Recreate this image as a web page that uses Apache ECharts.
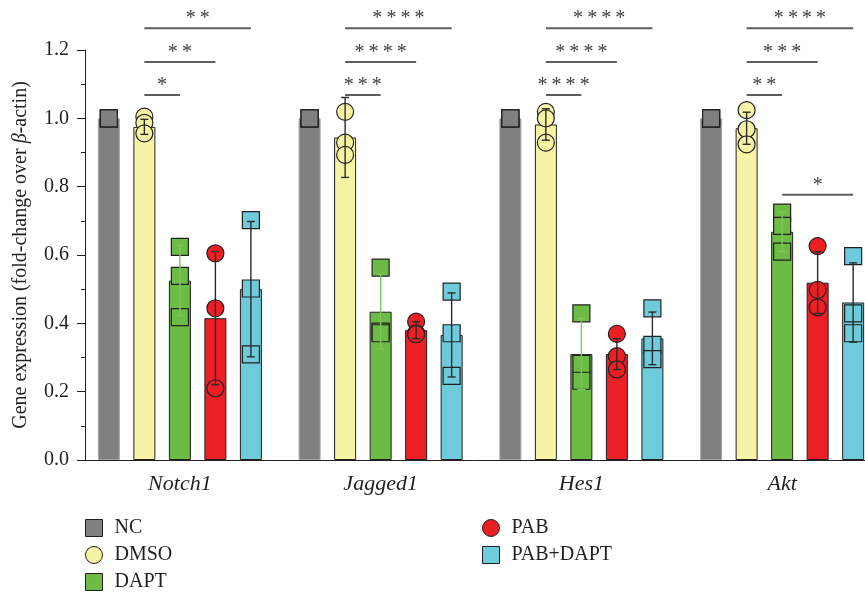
<!DOCTYPE html>
<html><head><meta charset="utf-8">
<script src="https://cdn.jsdelivr.net/npm/echarts@6/dist/echarts.min.js"></script>
<style>html,body{margin:0;padding:0;background:#fff}#c{width:865px;height:592px}</style>
</head><body><div id="c"></div>
<script>
// ---- data ----
const categories = ['Notch1', 'Jagged1', 'Hes1', 'Akt'];
const groups = ['NC', 'DMSO', 'DAPT', 'PAB', 'PAB+DAPT'];

const ncMean = [1.0, 1.0, 1.0, 1.0];
const ncSd = [0, 0, 0, 0];
const ncPoints = [[1.0, 1.0, 1.0], [1.0, 1.0, 1.0], [1.0, 1.0, 1.0], [1.0, 1.0, 1.0]];

const dmsoMean = [0.975, 0.944, 0.982, 0.971];
const dmsoSd = [0.022, 0.117, 0.046, 0.047];
const dmsoPoints = [[1.005, 0.987, 0.956], [1.019, 0.929, 0.893], [1.019, 1.0, 0.929], [1.024, 0.968, 0.924]];

const daptMean = [0.525, 0.434, 0.310, 0.668];
const daptSd = [0.103, 0.109, 0.104, 0.058];
const daptPoints = [[0.624, 0.539, 0.418], [0.563, 0.376, 0.371], [0.429, 0.281, 0.232], [0.724, 0.685, 0.610]];

const pabMean = [0.415, 0.380, 0.310, 0.519];
const pabSd = [0.195, 0.025, 0.045, 0.090];
const pabPoints = [[0.605, 0.444, 0.210], [0.405, 0.371, 0.368], [0.369, 0.304, 0.265], [0.626, 0.498, 0.447]];

const pabDaptMean = [0.500, 0.366, 0.356, 0.461];
const pabDaptSd = [0.198, 0.123, 0.077, 0.116];
const pabDaptPoints = [[0.702, 0.502, 0.309], [0.493, 0.371, 0.246], [0.444, 0.337, 0.295], [0.597, 0.429, 0.371]];

const yTicks = [0.0, 0.2, 0.4, 0.6, 0.8, 1.0, 1.2];

// significance brackets: category, from group, to group, height, label
const bracketCat = [0, 0, 0, 1, 1, 1, 2, 2, 2, 3, 3, 3, 3];
const bracketFrom = [1, 1, 1, 1, 1, 1, 1, 1, 1, 1, 1, 1, 2];
const bracketTo = [4, 3, 2, 4, 3, 2, 4, 3, 2, 4, 3, 2, 4];
const bracketLevel = [1.264, 1.165, 1.068, 1.264, 1.165, 1.068, 1.264, 1.165, 1.068, 1.264, 1.165, 1.068, 0.776];
const bracketLabel = ['**', '**', '*', '****', '****', '***', '****', '****', '****', '****', '***', '**', '*'];

// ---- styling / layout ----
const means = [ncMean, dmsoMean, daptMean, pabMean, pabDaptMean];
const sds = [ncSd, dmsoSd, daptSd, pabSd, pabDaptSd];
const points = [ncPoints, dmsoPoints, daptPoints, pabPoints, pabDaptPoints];
const colors = ['#808080', '#f8f4a6', '#6cbb45', '#ec2024', '#6ecbdb'];
const symbols = ['rect', 'circle', 'rect', 'circle', 'rect'];
const errColors = ['#333', '#2b2b2b', '#7cc65c', '#2b2b2b', '#2b2b2b'];
const SERIF = "'Liberation Serif','DejaVu Serif',serif";
const INK = '#231f20';
const GRID_L = 79.5, GRID_W = 803, GRID_T = 50, GRID_H = 410;
const BAR_W = 22, BAR_GAP = 0.614;
const STEP = BAR_W * (1 + BAR_GAP) / (GRID_W / categories.length);
function off(i) { return (i - (groups.length - 1) / 2) * STEP; }

const series = [];
groups.forEach(function (g, i) {
  series.push({
    name: g, type: 'bar', xAxisIndex: 0, yAxisIndex: 0,
    data: means[i], barWidth: BAR_W, barGap: (BAR_GAP * 100) + '%',
    itemStyle: { color: colors[i], borderColor: i === 0 ? '#a6a6a6' : INK, borderWidth: 1 },
    z: 2
  });
});
groups.forEach(function (g, i) {
  const d = [];
  points[i].forEach(function (arr, j) { arr.forEach(function (v) { d.push([j + off(i), v]); }); });
  series.push({
    name: g, type: 'scatter', xAxisIndex: 1, yAxisIndex: 0,
    symbol: symbols[i], symbolSize: 17, data: d,
    itemStyle: { color: colors[i], borderColor: INK, borderWidth: 1.2, opacity: 1 },
    z: 3
  });
});
groups.forEach(function (g, i) {
  const d = means[i].map(function (m, j) { return [j + off(i), m, sds[i][j]]; });
  series.push({
    name: g, type: 'custom', xAxisIndex: 1, yAxisIndex: 0, data: d, z: 4,
    renderItem: function (params, api) {
      const x = api.value(0), m = api.value(1), s = api.value(2);
      if (!s) return null;
      const t = api.coord([x, m + s]), b = api.coord([x, m - s]);
      const c = 4, st = { stroke: errColors[i], lineWidth: 1.4 };
      return { type: 'group', children: [
        { type: 'line', shape: { x1: t[0], y1: t[1], x2: b[0], y2: b[1] }, style: st },
        { type: 'line', shape: { x1: t[0] - c, y1: t[1], x2: t[0] + c, y2: t[1] }, style: st },
        { type: 'line', shape: { x1: b[0] - c, y1: b[1], x2: b[0] + c, y2: b[1] }, style: st }
      ] };
    }
  });
});
series.push({
  name: 'sig', type: 'custom', xAxisIndex: 1, yAxisIndex: 0, z: 5, clip: false,
  data: bracketCat.map(function (c, k) { return [c + off(bracketFrom[k]), bracketLevel[k], c + off(bracketTo[k])]; }),
  renderItem: function (params, api) {
    const p1 = api.coord([api.value(0), api.value(1)]);
    const p2 = api.coord([api.value(2), api.value(1)]);
    const lab = bracketLabel[params.dataIndex].split('').join('\u2009');
    return { type: 'group', children: [
      { type: 'line', shape: { x1: p1[0], y1: p1[1], x2: p2[0], y2: p2[1] }, style: { stroke: '#5d5d5d', lineWidth: 2 } },
      { type: 'text', x: (p1[0] + p2[0]) / 2, y: p1[1] - 9,
        style: { text: lab, fill: '#404040', font: '20px ' + SERIF, align: 'center', verticalAlign: 'middle', textAlign: 'center', textVerticalAlign: 'middle' } }
    ] };
  }
});

const legendBase = {
  orient: 'vertical', itemWidth: 17, itemHeight: 17, itemGap: 7, height: 90,
  textStyle: { fontFamily: SERIF, fontSize: 20, color: INK, lineHeight: 20, padding: [0, 0, 0, 7] },
  selectedMode: false
};
function legendItem(i) {
  return { name: groups[i], icon: symbols[i], itemStyle: { color: colors[i], borderColor: INK, borderWidth: 1 } };
}

const option = {
  animation: false,
  backgroundColor: '#fff',
  grid: { left: GRID_L, top: GRID_T, width: GRID_W, height: GRID_H, containLabel: false, outerBoundsMode: 'none' },
  legend: [
    Object.assign({}, legendBase, { left: 80, top: 513, data: [0, 1, 2].map(legendItem) }),
    Object.assign({}, legendBase, { left: 477, top: 513, data: [3, 4].map(legendItem) })
  ],
  xAxis: [
    {
      type: 'category', data: categories,
      axisLine: { lineStyle: { color: INK, width: 1 } },
      axisTick: { alignWithLabel: true, length: 7, lineStyle: { color: INK } },
      axisLabel: { fontFamily: SERIF, fontStyle: 'italic', fontSize: 22, color: INK, margin: 13 }
    },
    { type: 'value', min: -0.5, max: categories.length - 0.5, show: false }
  ],
  yAxis: {
    type: 'value', min: yTicks[0], max: yTicks[yTicks.length - 1], interval: yTicks[1] - yTicks[0],
    offset: -5.5,
    name: 'Gene expression (fold-change over {i|β}-actin)',
    nameLocation: 'middle', nameGap: 54,
    nameTextStyle: { fontFamily: SERIF, fontSize: 20, color: INK,
      rich: { i: { fontFamily: SERIF, fontSize: 20, fontStyle: 'italic', color: INK } } },
    axisLine: { show: true, onZero: false, lineStyle: { color: INK, width: 1 } },
    axisTick: { show: true, length: 8, lineStyle: { color: INK } },
    minorTick: { show: true, splitNumber: 2, length: 4, lineStyle: { color: INK } },
    splitLine: { show: false },
    axisLabel: { fontFamily: SERIF, fontSize: 20, color: INK, margin: 16,
      formatter: function (v) { return v.toFixed(1); } }
  },
  series: series
};
const chart = echarts.init(document.getElementById('c'), null, { renderer: 'canvas' });
chart.setOption(option);
</script></body></html>
